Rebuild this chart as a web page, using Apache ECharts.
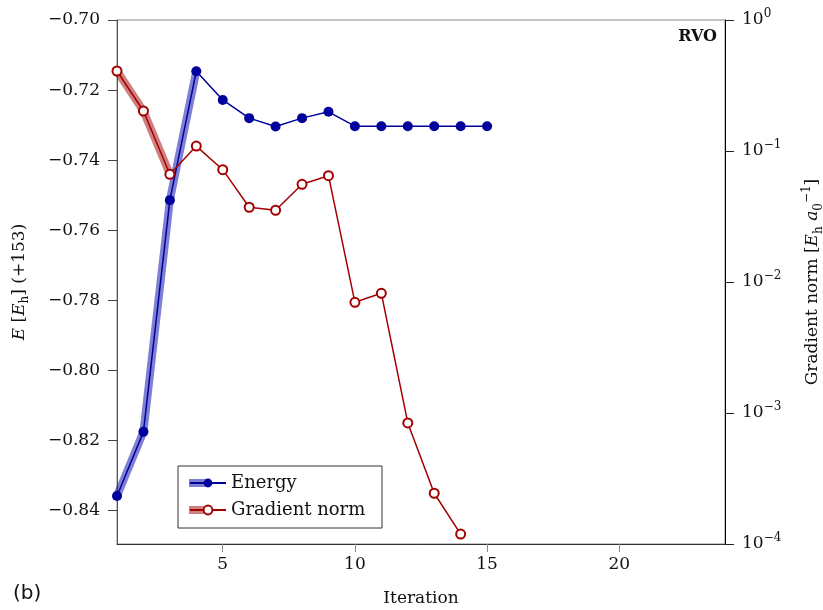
<!DOCTYPE html>
<html>
<head>
<meta charset="utf-8">
<script src="https://cdn.jsdelivr.net/npm/echarts@6.0.0/dist/echarts.min.js"></script>
<style>
  html, body { margin: 0; padding: 0; background: #fff; }
  #chart { width: 823px; height: 610px; }
</style>
</head>
<body>
<div id="chart"></div>
<script>
// iteration numbers
const iterations = [1, 2, 3, 4, 5, 6, 7, 8, 9, 10, 11, 12, 13, 14, 15];
// energy, E_h (+153)
const energy = [-0.8358, -0.8175, -0.7514, -0.7146, -0.7228, -0.7280, -0.7304, -0.7280,
  -0.7262, -0.7303, -0.7303, -0.7303, -0.7303, -0.7303, -0.7303];
// gradient norm, E_h a0^-1 (iterations 1..14)
const gradNorm = [0.408, 0.202, 0.0664, 0.109, 0.0720, 0.0372, 0.0353, 0.0557,
  0.0648, 0.0070, 0.0082, 8.4e-4, 2.44e-4, 1.19e-4];
// how many first points are highlighted with the thick band
const energyBandCount = 4;
const gradBandCount = 3;
// tick labels
const xTicks = [5, 10, 15, 20];
const energyTicks = [-0.84, -0.82, -0.80, -0.78, -0.76, -0.74, -0.72, -0.70];
const gradTicks = [1e-4, 1e-3, 1e-2, 1e-1, 1];

const FONT = 'DejaVu Serif';
const BLUE = '#00009c';
const RED = '#a30000';

const energyPts = energy.map((v, i) => [iterations[i], v]);
const gradPts = gradNorm.map((v, i) => [iterations[i], v]);

const minus = s => s.replace('-', '\u2212');

let myChart = echarts.init(document.getElementById('chart'));
myChart.setOption({
  animation: false,
  title: [
    {
      text: 'RVO', right: 106, top: 29, padding: 0,
      textStyle: { fontFamily: FONT, fontWeight: 'bold', fontSize: 16, color: '#111' }
    },
    {
      text: '(b)', left: 13, top: 584, padding: 0,
      textStyle: { fontFamily: 'DejaVu Sans', fontWeight: 'normal', fontSize: 20, color: '#111' }
    }
  ],
  grid: {
    left: 117, right: 98, top: 20, bottom: 66,
    show: true, borderColor: '#888', borderWidth: 1,
    outerBoundsMode: 'none'
  },
  legend: {
    data: ['Energy', 'Gradient norm'],
    orient: 'vertical',
    left: 178, top: 466,
    padding: [8, 11, 9, 11],
    itemGap: 9,
    itemWidth: 36, itemHeight: 11,
    z: 4,
    textStyle: { fontFamily: FONT, fontSize: 18, color: '#111', lineHeight: 18 }
  },
  graphic: [
    { type: 'rect', z: 3, shape: { x: 178, y: 466, width: 204, height: 62 },
      style: { fill: '#fff', stroke: '#333', lineWidth: 1 } },
    { type: 'rect', z: 3, z2: 1, shape: { x: 189, y: 479, width: 20, height: 8 },
      style: { fill: 'rgba(0,0,160,0.5)' } },
    { type: 'rect', z: 3, z2: 1, shape: { x: 189, y: 506, width: 20, height: 8 },
      style: { fill: 'rgba(160,0,0,0.5)' } }
  ],
  xAxis: {
    type: 'value', min: 1, max: 24,
    name: 'Iteration', nameLocation: 'middle', nameGap: 46,
    nameTextStyle: { fontFamily: FONT, fontSize: 17, color: '#111' },
    axisLine: { lineStyle: { color: '#333', width: 1 } },
    axisTick: { customValues: xTicks, length: 8, lineStyle: { color: '#888' } },
    axisLabel: { customValues: xTicks, margin: 12, fontFamily: FONT, fontSize: 17, color: '#111' },
    splitLine: { show: false }
  },
  yAxis: [
    {
      type: 'value', min: -0.8495, max: -0.70,
      name: '{it|E} [{it|E}{sub|h}] (+153)',
      nameLocation: 'middle', nameGap: 86, nameRotate: 90, nameMoveOverlap: false,
      nameTextStyle: {
        fontFamily: FONT, fontSize: 17, color: '#111', lineHeight: 22,
        rich: {
          it: { fontFamily: FONT, fontSize: 17, fontStyle: 'italic', color: '#111', lineHeight: 22 },
          sub: { fontFamily: FONT, fontSize: 12, color: '#111', lineHeight: 12, verticalAlign: 'bottom' }
        }
      },
      axisLine: { show: true, lineStyle: { color: '#555', width: 1 } },
      axisTick: { show: true, customValues: energyTicks, length: 9, lineStyle: { color: '#444' } },
      axisLabel: {
        customValues: energyTicks, margin: 17, fontFamily: FONT, fontSize: 17, color: '#111',
        formatter: v => minus(v.toFixed(2))
      },
      splitLine: { show: false }
    },
    {
      type: 'log', logBase: 10, min: 1e-4, max: 1,
      position: 'right',
      name: 'Gradient norm [{it|E}{sub|h} {it|a}{sub|0}{sup|\u22121}]',
      nameLocation: 'middle', nameGap: 76, nameRotate: 90, nameMoveOverlap: false,
      nameTextStyle: {
        fontFamily: FONT, fontSize: 17, color: '#111', lineHeight: 24,
        rich: {
          it: { fontFamily: FONT, fontSize: 17, fontStyle: 'italic', color: '#111', lineHeight: 24 },
          sub: { fontFamily: FONT, fontSize: 12, color: '#111', lineHeight: 12, verticalAlign: 'bottom' },
          sup: { fontFamily: FONT, fontSize: 12, color: '#111', lineHeight: 10, verticalAlign: 'top' }
        }
      },
      axisLine: { show: true, lineStyle: { color: '#000', width: 1 } },
      axisTick: { show: true, customValues: gradTicks, length: 9, lineStyle: { color: '#222' } },
      axisLabel: {
        customValues: gradTicks, margin: 17, fontFamily: FONT, fontSize: 17, color: '#111',
        lineHeight: 24,
        formatter: v => '10{sup|' + minus(String(Math.round(Math.log10(v)))) + '}',
        rich: {
          sup: { fontFamily: FONT, fontSize: 12, color: '#111', lineHeight: 10, verticalAlign: 'top' }
        }
      },
      splitLine: { show: false }
    }
  ],
  series: [
    {
      name: 'Energy band', type: 'line', yAxisIndex: 0, z: 1, silent: true,
      data: energyPts.slice(0, energyBandCount),
      showSymbol: false,
      lineStyle: { width: 8, color: 'rgba(0,0,170,0.5)' }
    },
    {
      name: 'Gradient band', type: 'line', yAxisIndex: 1, z: 1, silent: true,
      data: gradPts.slice(0, gradBandCount),
      showSymbol: false,
      lineStyle: { width: 8, color: 'rgba(160,0,0,0.5)' }
    },
    {
      name: 'Energy', type: 'line', yAxisIndex: 0, z: 3,
      data: energyPts,
      symbol: 'circle', symbolSize: 10,
      itemStyle: { color: BLUE },
      lineStyle: { width: 1.5, color: BLUE }
    },
    {
      name: 'Gradient norm', type: 'line', yAxisIndex: 1, z: 3,
      data: gradPts,
      symbol: 'emptyCircle', symbolSize: 9,
      itemStyle: { color: RED, borderWidth: 1.5 },
      lineStyle: { width: 1.5, color: RED }
    }
  ]
});
</script>
</body>
</html>
